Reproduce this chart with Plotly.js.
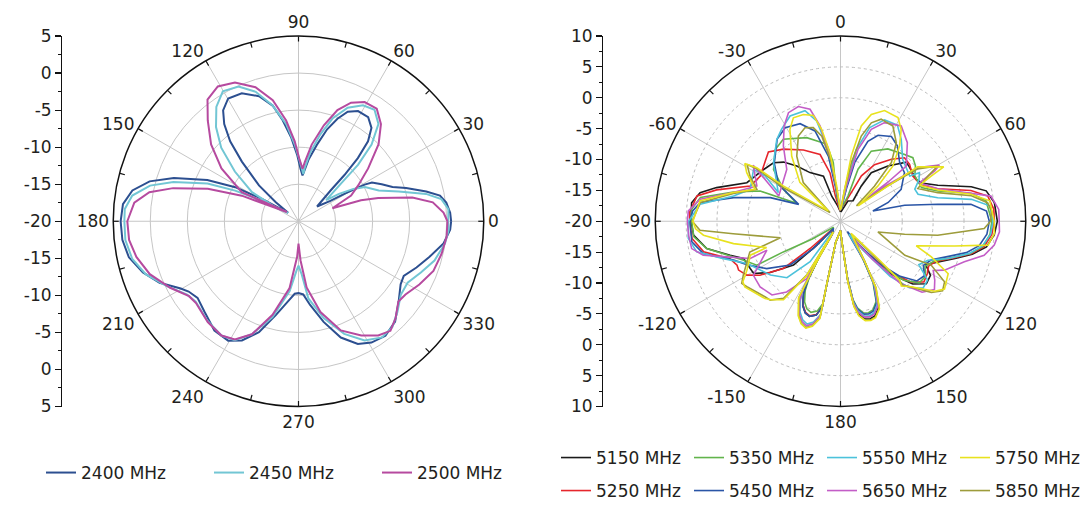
<!DOCTYPE html>
<html>
<head>
<meta charset="utf-8">
<script src="https://cdn.plot.ly/plotly-3.0.1.min.js"></script>
<style>
html, body { margin: 0; padding: 0; background: #fff; }
#plot { width: 1091px; height: 510px; }
</style>
</head>
<body>
<div id="plot"></div>
<script>
/* global Plotly */
// 2.4 GHz band, [angle deg (ccw from right), gain dB]
const p2400 = [[0,0.6],[3.2,0.5],[7.2,0.1],[10.3,-0.6],[13.1,-2.3],[17.2,-4.8],[20,-6.5],[24,-7.7],[27.8,-8.8],[29,-9.8],[30.8,-12.8],[32.5,-14.9],[38.5,-16.8],[43.8,-14],[45.2,-11.2],[46.8,-8.3],[49,-5.7],[52,-4],[56.2,-3.1],[61.6,-3.1],[65.8,-3.8],[69.2,-5.2],[72.7,-7],[76.5,-9.4],[80.8,-11.6],[83.7,-13.3],[85,-13.8],[87.8,-12.9],[91.2,-11],[94.9,-8.7],[98.9,-6.2],[102.6,-4],[107.5,-2.3],[113.9,-1.1],[119.8,-0.9],[124.2,-1.9],[127.4,-3.5],[130.5,-5.8],[133.5,-8.9],[137.8,-12.8],[140,-16],[141,-18.2],[148.5,-14.3],[151.7,-10.3],[155.7,-6.5],[160.9,-2.2],[165,0.8],[169.5,2.8],[174.4,3.8],[180,4.0],[186,3.9],[192,3.4],[198.2,2.1],[203.9,0.5],[209.7,-1.7],[212.6,-2.4],[217.2,-2.9],[223.8,-2.4],[232.4,-1.4],[239.5,-1.3],[244.6,-2.2],[250.4,-4.1],[256.5,-7],[263.6,-9.4],[267,-10.2],[270,-10.3],[273.7,-10.1],[277.9,-8.6],[284,-6],[290,-3.3],[295.8,-1.6],[301,-0.9],[307.2,-0.6],[313.9,-1.2],[321.4,-2.7],[328.3,-3.8],[332.6,-4],[338.6,-2.9],[344.7,-1.7],[351.3,-0.2],[356.8,0.5],[360,0.6]];
const p2450 = [[0,0.2],[4.6,0.3],[8.8,-0.5],[12.1,-2.4],[16.5,-5.9],[21,-8.4],[27.3,-9.9],[30.5,-11.4],[34,-13.4],[37.5,-15.3],[41.6,-12.3],[43.5,-8.9],[46.4,-5.7],[50.6,-3],[55.7,-1.8],[60.9,-2.1],[66.6,-3.3],[71.7,-5.4],[75.9,-7.9],[80.4,-10.6],[83.4,-12.8],[84.2,-13.6],[88.7,-11.9],[92.8,-9.6],[97.2,-6.8],[102.6,-4],[108.3,-1.6],[114,-0.1],[120.2,0.3],[125.7,-1],[131.2,-3.1],[136.4,-5.6],[142,-9.1],[148,-12.6],[148.8,-16.5],[141,-18.2],[150.5,-14.4],[154.2,-10.5],[157.5,-6.7],[162.6,-2.3],[166.5,0.6],[171.2,2.7],[176,3.5],[180,3.5],[186.2,3.5],[192.8,3],[199.2,1.8],[206.2,-0.2],[213.4,-2],[218,-2.4],[227.5,-1.8],[236,-1.4],[241.8,-1.8],[247.6,-3.5],[254.8,-6.6],[262.8,-10.5],[267.6,-13.3],[270,-14],[273.3,-12.9],[277.3,-9.5],[284.6,-6.5],[292.1,-3.6],[299,-1.6],[305.7,-0.7],[311.5,-0.9],[317.5,-1.9],[324.3,-3],[330.6,-3.1],[337.3,-2.1],[343.9,-0.9],[351.4,0],[356.7,0.3],[360,0.2]];
const p2500 = [[0,0.1],[3.4,-0.4],[8,-1.7],[11.8,-4.3],[16.2,-8.8],[18.6,-11.1],[21,-15.1],[26,-12.1],[31,-10.6],[37.2,-8.2],[43.9,-5],[49.7,-2.8],[55.2,-1.5],[61,-1.6],[66.1,-2.5],[70.7,-4.1],[75.2,-6.6],[80.2,-9.5],[83.8,-11.9],[85.6,-12.9],[89.4,-11.5],[92.7,-9.2],[97,-6.3],[102,-3.3],[107.8,-1],[114.6,0.6],[120.9,1.2],[126.8,0.5],[132,-1.7],[138.7,-4.3],[145.6,-7.4],[152.9,-11.4],[141.5,-18],[153.4,-14.6],[155.7,-11.6],[160.3,-7],[165.2,-2.5],[169,0.5],[173.5,2.3],[180,3.1],[186.3,3],[192.4,2.4],[199.6,1.3],[207.4,-0.5],[214.4,-2.1],[218.6,-2.3],[228,-1.7],[236,-1.4],[241.7,-1.9],[247.6,-3.5],[254.5,-6.9],[262.4,-10.9],[267.8,-15.2],[270,-17],[273,-14.7],[277,-11],[283.6,-7.4],[291.2,-4.2],[298.8,-2.4],[304.9,-1.2],[310,-0.7],[315.1,-1.5],[321.2,-2.7],[325.6,-2.5],[332.4,-1.6],[339.8,-0.6],[347.2,-0.2],[354,0.1],[360,0.1]];

// 5 GHz band, [angle deg (cw from top), gain dB]
const p5150 = [[2,-18.5],[20,-16.5],[31.6,-16.1],[30.5,-13.4],[32.4,-10.7],[40.6,-8.2],[48,-5.7],[51.7,-5.8],[61,-6],[65.3,-5.3],[69.7,-3.2],[75.2,1.9],[78.2,4.1],[83.1,5.1],[90,5.4],[95,5.0],[100,4.0],[104,2.0],[108,-0.5],[113,-3.0],[117,-4.5],[121,-3.0],[126,-2.8],[131,-4.5],[136,-8],[140,-13],[145,-17],[149,-12.5],[152,-8],[156,-4.8],[160,-3.7],[163,-3.5],[166,-3.7],[169,-4.7],[171,-6.3],[173,-10.3],[176,-16.5],[180,-18.5],[192.8,-16.5],[192.3,-10],[192,-5.8],[194.5,-4.3],[198,-3.8],[201,-4.1],[204,-5],[207,-6.8],[209,-9],[211,-13],[213,-17.5],[224.3,-18.3],[224.8,-14.5],[227,-9.6],[233.9,-5.9],[239,-3.6],[242.4,-3.5],[249,-3.2],[252.9,-1.3],[258.5,2.1],[264.6,3.9],[270,4.2],[277.1,4.3],[281.5,3.2],[285.2,0.8],[292.4,-3.6],[296.6,-4.2],[304,-5],[311.1,-5.6],[316.1,-6.7],[321.6,-8.6],[327.9,-10.7],[339.3,-12.2],[340.8,-15.7],[350,-17.5],[360,-18.5]];
const p5250 = [[3,-18],[20.7,-15],[24.7,-11.9],[31,-9.3],[39.4,-7],[45.2,-5.4],[50.5,-5.5],[58,-6.2],[66,-5.7],[71.5,-3.4],[76.7,1.7],[80.3,4.2],[85.5,4.9],[90,4.9],[95,4.6],[100,3.6],[104,1.8],[108,-0.8],[113,-3.3],[117,-4],[121,-3.6],[126,-3.3],[131,-5],[136,-9],[141,-14],[145,-17.5],[149,-12.7],[152,-8.3],[156,-5.2],[160,-4.1],[163,-3.9],[166,-4.1],[169,-5.1],[171,-6.7],[173,-10.5],[176,-16.5],[180,-18.5],[192.8,-16.5],[192.3,-10],[192,-5.9],[194.5,-4.4],[198,-3.9],[201,-4.2],[204,-5.1],[207,-6.9],[209,-9],[211,-13],[213,-17.5],[226,-18],[228.1,-13.4],[230.4,-8],[236.2,-4.3],[240.1,-2.5],[244.4,-1.7],[247,-1.8],[251.3,-1.1],[257.4,2.7],[263.4,4.2],[270,4.4],[273.3,4.5],[280,3.6],[284.2,0.7],[291.3,-4.3],[299.4,-5.1],[308.6,-4.4],[313.9,-3.8],[321.6,-5.1],[332.5,-7],[343,-8.7],[347.8,-12],[348.5,-15.8],[355,-18],[360,-18.3]];
const p5350 = [[3,-18],[16.5,-15.7],[18.6,-11.1],[23.7,-7.6],[33.2,-6],[43.8,-5],[48.7,-4.4],[53.5,-4.9],[58.6,-5.9],[67.4,-5.8],[72.7,-3.5],[77.9,1.6],[82,3.8],[90,4.5],[95,4.3],[100,3.4],[104,1.6],[108,-1],[113,-3.5],[118,-4.5],[123,-3.6],[128,-3.8],[133,-6],[138,-10],[143,-15],[146,-17.5],[149,-13],[152,-8.8],[156,-5.8],[160,-4.7],[163,-4.5],[166,-4.7],[169,-5.7],[171,-7.2],[173,-10.8],[176,-16.5],[180,-18.5],[192.8,-16.5],[192.3,-10.2],[192,-6.4],[194.5,-5],[198,-4.5],[201,-4.8],[204,-5.7],[207,-7.4],[209,-9.5],[211,-13.5],[213,-17.5],[230,-18.5],[238,-14.6],[241.8,-9.5],[242.3,-4.7],[248.1,-3.1],[251.6,-1.7],[258.5,2.1],[264,3.9],[270,4.1],[274.6,4.2],[279.6,3],[285.3,-2],[290.6,-6.1],[292.3,-12.3],[299.2,-9.4],[307.7,-6.3],[317.7,-4.3],[325.1,-3.8],[338,-5.4],[349.8,-7.3],[353,-10.4],[351.4,-15.9],[358,-18],[360,-18.2]];
const p5450 = [[3,-18],[10.3,-14.7],[13.6,-10.2],[18.9,-6.3],[23.6,-4.8],[31,-4],[37,-4.7],[45.2,-6.5],[52.8,-7],[62.2,-8.9],[68.5,-11.7],[72.4,-14.5],[76,-9.3],[80.1,-4],[82.6,1.3],[86,3.7],[90,4.1],[95,3.8],[100,2.8],[104,1],[108,-1.6],[113,-4],[118,-4.8],[123,-3.8],[128,-4.3],[133,-7],[138,-11],[143,-16],[146,-18],[149,-12.9],[152,-8.6],[156,-5.6],[160,-4.5],[163,-4.3],[166,-4.5],[169,-5.5],[171,-7],[173,-10.7],[176,-16.5],[180,-18.5],[192.8,-16.5],[192.3,-10],[192,-5.8],[194.5,-4.3],[198,-3.8],[201,-4.1],[204,-5],[207,-6.8],[209,-9],[211,-13],[213,-17.5],[224.5,-18.4],[224.8,-13.8],[229,-9.2],[237.3,-5.8],[244.5,-3.5],[250,-1.6],[256.7,2.8],[262.1,4.3],[270,4.4],[274,4.0],[277.6,2.9],[282.5,-2.3],[288.6,-8],[292,-12.7],[300.8,-8.3],[311.4,-5.7],[322.4,-3.2],[329.4,-2.4],[337.5,-2.9],[344.2,-4.8],[349.5,-9.3],[352,-14.8],[357,-18],[360,-18.2]];
const p5550 = [[2,-18],[9.4,-14.2],[12.4,-8.1],[17.3,-4.1],[23.5,-2.1],[30.6,-1.9],[36.6,-3.5],[45.2,-5.8],[56.8,-6.6],[58.4,-5],[62,-5.6],[66.7,-6.9],[70.8,-6.7],[76.4,-3.8],[80.5,1.5],[84.1,4.3],[90,4.7],[95,4.4],[100,3.3],[104,1.5],[109,-1.5],[114,-4.5],[119,-5.5],[124,-3],[129,-2.8],[134,-4.5],[138,-8],[142,-14],[146,-17.5],[149,-12.6],[152,-8.4],[156,-5.3],[160,-4.2],[163,-4],[166,-4.2],[169,-5.2],[171,-6.8],[173,-10.5],[176,-16.5],[180,-18.5],[192.8,-16.5],[192.3,-9.8],[192,-4.6],[195,-3.1],[198,-2.5],[201,-2.9],[204,-3.9],[207,-5.7],[209,-7.5],[211,-12.6],[213,-17.5],[218,-17.4],[216.9,-11.8],[223.5,-7.4],[232.5,-5.7],[245.7,-3.4],[252.3,-0.1],[258,3.8],[263.5,4.8],[270,4.6],[276.9,2.9],[283.3,-2.2],[289.5,-4.5],[300.8,-3.6],[301,-5.8],[294.8,-8.9],[311.1,-5.6],[322.1,-3.2],[327.4,-2.3],[334.4,-1.1],[342.2,-1.2],[346.6,-3.3],[350.4,-8.2],[352.7,-14.2],[357,-18],[360,-18.2]];
const p5650 = [[2,-18],[9.4,-14.2],[13.7,-8],[18.5,-4.3],[24.1,-2.5],[32.5,-1.7],[40.4,-3.3],[50,-6.1],[50.5,-10],[48,-15.5],[52,-10.5],[55.3,-4.7],[60.4,-1.6],[61.9,-2.7],[64,-5.8],[71.5,-3.4],[77.9,1.6],[80.5,4.7],[85.7,5.7],[90,5.7],[93.8,5.8],[98.8,5.2],[103.3,3.9],[108.1,1.1],[115.2,-1.4],[118,-3],[122,-2],[126,-1.2],[131,-2.5],[136,-6],[140,-12],[144,-16.5],[149,-12.4],[152,-8.2],[156,-5.1],[160,-4],[163,-3.8],[166,-4],[169,-5],[171,-6.6],[173,-10.4],[176,-16.5],[180,-18.5],[192.8,-16.5],[192.3,-9.8],[192,-4.4],[195,-2.8],[198,-2.2],[201,-2.6],[204,-3.6],[207,-5.4],[209,-7.5],[211,-12.6],[213,-17.5],[210.5,-9.2],[217.3,-5.6],[222.9,-3.7],[230.8,-3.2],[238.2,-3.4],[248.6,-7.2],[247.6,-4.2],[252.6,-0.7],[256.1,2.9],[259.6,4.5],[264.7,4.7],[270,4.8],[273.9,4.7],[278.9,3],[285,-2],[292.9,-5.3],[302.7,-3.2],[292.2,-9.2],[314,-7.9],[322.8,-4.7],[329.3,-2.1],[334.4,-0.5],[339.8,-0.2],[344.8,-1.2],[347.9,-4.2],[350.9,-9.3],[353.2,-14.8],[358,-18],[360,-18.2]];
const p5750 = [[2,-18],[7.4,-14.8],[9.4,-9.3],[12.3,-4.2],[16.1,-2],[21.7,-0.7],[29,-0.8],[33.5,-2.2],[38.1,-4.5],[43.5,-7.7],[46.7,-11.7],[48.8,-16.2],[53.4,-10.4],[54.8,-4.7],[62.2,-1.1],[63.5,-3.6],[65.5,-5.9],[72.2,-3.4],[78.3,1.6],[82.2,4.4],[90,4.9],[94.6,5],[99.2,4.2],[102.2,-1.1],[108,-7.1],[111.4,-4.2],[116,-0.6],[123.1,0.1],[126.6,-1],[132.8,-4.4],[136.8,-5.6],[134.9,-6.5],[134.9,-11.4],[138.7,-17.4],[149,-12.3],[152,-7.7],[156,-4.5],[160,-3.4],[163,-3.2],[166,-3.4],[169,-4.4],[171,-6],[173,-10],[176,-16.5],[180,-18.5],[192.8,-16.5],[192.3,-9.5],[192,-3.9],[195,-2.4],[198,-1.8],[201,-2.2],[204,-3.2],[207,-5],[208.6,-5.8],[210.4,-12.4],[214,-17.9],[212,-9.6],[216,-4.3],[221.6,-3],[224.3,-2.5],[235.5,-1.2],[238.2,-1.4],[242.4,-2.9],[249.4,-4.4],[250.4,-7.3],[258.2,-2.3],[264.2,2.3],[267,3.5],[270,3.9],[278.2,3],[285,-2],[290.5,-5.2],[297.4,-2.9],[301.1,-1.9],[302.6,-3.9],[301.7,-9.1],[310.3,-17.4],[313.7,-10.9],[323.2,-6.8],[331.2,-3],[335.5,-1.6],[340.8,-1.7],[345.6,-2.3],[348.4,-4.8],[351.3,-8.8],[353.8,-14.2],[358,-18],[360,-18.2]];
const p5850 = [[2,-18],[7.4,-14.7],[10.5,-10.4],[13.7,-5.8],[17.4,-3.3],[21.7,-2.2],[28.8,-2.4],[35.4,-4.4],[40.9,-7.4],[44,-12.1],[46,-16.4],[53,-10.5],[55.8,-4.9],[60.4,-1.9],[62.6,-4],[67.1,-6.4],[73.6,-3.6],[79,1.6],[82.8,4],[86,4.5],[90,4.3],[92.9,3.3],[98.2,-4.1],[101.5,-9.4],[105.9,-13.7],[117.9,-8.2],[115.8,-3.7],[120.2,-0.5],[124.3,0],[128.1,-1.3],[132.8,-4.3],[135.7,-5.5],[135,-6.5],[136,-11.6],[139,-17],[149,-12.3],[152,-7.8],[156,-4.6],[160,-3.5],[163,-3.3],[166,-3.5],[169,-4.5],[171,-6.1],[173,-10],[176,-16.5],[180,-18.5],[192.8,-16.5],[192.3,-9.5],[192,-4],[195,-2.5],[198,-1.9],[201,-2.3],[204,-3.3],[207,-5.1],[208.6,-5.9],[210.4,-12.4],[214,-17.9],[212.1,-9.7],[216.5,-4.5],[221.7,-2.9],[225,-2.7],[235,-1.5],[237.8,-1.1],[241,-2],[251.3,-4.5],[254.6,-9.9],[263.4,-2.5],[266.3,2.8],[270,4],[277.6,2.9],[284.6,-2.1],[290.9,-5.5],[296.6,-3.6],[301.3,-2.3],[302.1,-4],[300.5,-9.3],[309.5,-17.8],[316.1,-11.3],[326.1,-7.3],[333.7,-4.6],[339.2,-3.8],[343.8,-4.2],[347.6,-5.9],[351.4,-10.4],[353.2,-14.8],[358,-18],[360,-18.2]];

// axis ticks
const leftAngles = [0, 30, 60, 90, 120, 150, 180, 210, 240, 270, 300, 330];
const rightAngles = [0, 30, 60, 90, 120, 150, 180, 210, 240, 270, 300, 330];
const rightAngleText = ['0', '30', '60', '90', '120', '150', '180', '-150', '-120', '-90', '-60', '-30'];
const leftScaleVals = [25, 20, 15, 10, 5, 0, -5, -10, -15, -20, -25];
const leftScaleText = ['5', '0', '-5', '-10', '-15', '-20', '-15', '-10', '-5', '0', '5'];
const rightScaleVals = [30, 25, 20, 15, 10, 5, 0, -5, -10, -15, -20, -25, -30];
const rightScaleText = ['10', '5', '0', '-5', '-10', '-15', '-20', '-15', '-10', '-5', '0', '5', '10'];

const INK = '#231f20';
const GRID = '#c6c6c6';
const FONT = {family: 'DejaVu Sans, sans-serif', size: 17, color: INK};
const DOM_Y = [0.2029, 0.9294];
const DOM_L = [0.10376, 0.44344];
const DOM_R = [0.60055, 0.94024];

const leftSeries = [
    {name: '2400 MHz', pts: p2400, color: '#2c4f90'},
    {name: '2450 MHz', pts: p2450, color: '#72c6d4'},
    {name: '2500 MHz', pts: p2500, color: '#b64a9f'},
];
const rightSeries = [
    {name: '5150 MHz', pts: p5150, color: '#1b1b1b', legend: 'legend2'},
    {name: '5250 MHz', pts: p5250, color: '#e6262c', legend: 'legend3'},
    {name: '5350 MHz', pts: p5350, color: '#62b44c', legend: 'legend2'},
    {name: '5450 MHz', pts: p5450, color: '#2a55a6', legend: 'legend3'},
    {name: '5550 MHz', pts: p5550, color: '#4cc2db', legend: 'legend2'},
    {name: '5650 MHz', pts: p5650, color: '#c35dc7', legend: 'legend3'},
    {name: '5850 MHz', pts: p5850, color: '#9d9c3b', legend: 'legend3'},
    {name: '5750 MHz', pts: p5750, color: '#e8e21e', legend: 'legend2'},
];

const traces = [];
leftSeries.forEach(s => traces.push({
    type: 'scatterpolar', subplot: 'polar', mode: 'lines', name: s.name,
    theta: s.pts.map(p => p[0]), r: s.pts.map(p => p[1]),
    line: {color: s.color, width: 2}, legend: 'legend', hoverinfo: 'skip'
}));
rightSeries.forEach(s => traces.push({
    type: 'scatterpolar', subplot: 'polar2', mode: 'lines', name: s.name,
    theta: s.pts.map(p => p[0]), r: s.pts.map(p => p[1]),
    line: {color: s.color, width: 1.6}, legend: s.legend, hoverinfo: 'skip'
}));
// empty holders so the tick-only overlays and the side scales get drawn
traces.push({type: 'scatterpolar', subplot: 'polar3', mode: 'lines', r: [-20], theta: [0], showlegend: false, hoverinfo: 'skip'});
traces.push({type: 'scatterpolar', subplot: 'polar4', mode: 'lines', r: [-20], theta: [0], showlegend: false, hoverinfo: 'skip'});
traces.push({type: 'scatter', x: [0], y: [0], mode: 'lines', xaxis: 'x', yaxis: 'y', showlegend: false, hoverinfo: 'skip'});
traces.push({type: 'scatter', x: [0], y: [0], mode: 'lines', xaxis: 'x2', yaxis: 'y2', showlegend: false, hoverinfo: 'skip'});

const fifteen = [];
for (let a = 0; a < 360; a += 15) fifteen.push(a);

const tickOverlay = (domainX, rotation, direction, range) => ({
    domain: {x: domainX, y: DOM_Y},
    bgcolor: 'rgba(0,0,0,0)',
    angularaxis: {rotation, direction, tickmode: 'array', tickvals: fifteen, ticks: 'inside', ticklen: 5,
        tickcolor: '#111', tickwidth: 1.2, showticklabels: false, showline: false, showgrid: false},
    radialaxis: {visible: false, range}
});

const sideScale = (vals, text, range) => ({
    domain: DOM_Y, range, tickmode: 'array', tickvals: vals, ticktext: text,
    showline: true, linecolor: '#111', linewidth: 1.3, ticks: 'outside', ticklen: 6, tickcolor: '#111',
    tickwidth: 1.2, showgrid: false, zeroline: false, tickfont: FONT, fixedrange: true,
    minor: {tick0: 0, dtick: 2.5, ticks: 'outside', ticklen: 3, tickcolor: '#111', tickwidth: 1, showgrid: false}
});

const legendBase = {orientation: 'h', xanchor: 'left', yanchor: 'middle', font: FONT,
    bgcolor: 'rgba(0,0,0,0)', itemclick: false, itemdoubleclick: false, traceorder: 'normal'};

const layout = {
    width: 1091, height: 510,
    margin: {l: 0, r: 0, t: 0, b: 0, autoexpand: false},
    paper_bgcolor: '#fff', plot_bgcolor: 'rgba(0,0,0,0)',
    font: FONT,
    showlegend: true,
    polar: {
        domain: {x: DOM_L, y: DOM_Y}, bgcolor: 'rgba(0,0,0,0)',
        angularaxis: {rotation: 0, direction: 'counterclockwise', tickmode: 'array', tickvals: leftAngles,
            ticktext: leftAngles.map(String), ticks: '', showline: true, linecolor: '#111', linewidth: 1.5,
            gridcolor: GRID, gridwidth: 1, tickfont: FONT},
        radialaxis: {range: [-20, 5], tickmode: 'array', tickvals: [-15, -10, -5, 0], showticklabels: false,
            ticks: '', showline: false, gridcolor: GRID, gridwidth: 1}
    },
    polar2: {
        domain: {x: DOM_R, y: DOM_Y}, bgcolor: 'rgba(0,0,0,0)',
        angularaxis: {rotation: 90, direction: 'clockwise', tickmode: 'array', tickvals: rightAngles,
            ticktext: rightAngleText, ticks: '', showline: true, linecolor: '#111', linewidth: 1.5,
            gridcolor: GRID, gridwidth: 1, tickfont: FONT},
        radialaxis: {range: [-20, 10], tickmode: 'array', tickvals: [-15, -10, -5, 0, 5], showticklabels: false,
            ticks: '', showline: false, gridcolor: '#bcbcbc', gridwidth: 1, griddash: 'dot'}
    },
    polar3: tickOverlay(DOM_L, 0, 'counterclockwise', [-20, 5]),
    polar4: tickOverlay(DOM_R, 90, 'clockwise', [-20, 10]),
    xaxis: {domain: [62.3 / 1091, 70 / 1091], visible: false, range: [0, 1], fixedrange: true},
    yaxis: Object.assign(sideScale(leftScaleVals, leftScaleText, [-25, 25]), {anchor: 'x'}),
    xaxis2: {domain: [603.3 / 1091, 611 / 1091], visible: false, range: [0, 1], fixedrange: true},
    yaxis2: Object.assign(sideScale(rightScaleVals, rightScaleText, [-30, 30]), {anchor: 'x2'}),
    legend: Object.assign({}, legendBase, {x: 41 / 1091, y: 1 - 473 / 510, entrywidth: 123}),
    legend2: Object.assign({}, legendBase, {x: 556 / 1091, y: 1 - 458 / 510, entrywidth: 88}),
    legend3: Object.assign({}, legendBase, {x: 556 / 1091, y: 1 - 491 / 510, entrywidth: 88}),
};

Plotly.newPlot('plot', traces, layout, {staticPlot: true, displayModeBar: false});
</script>
</body>
</html>
